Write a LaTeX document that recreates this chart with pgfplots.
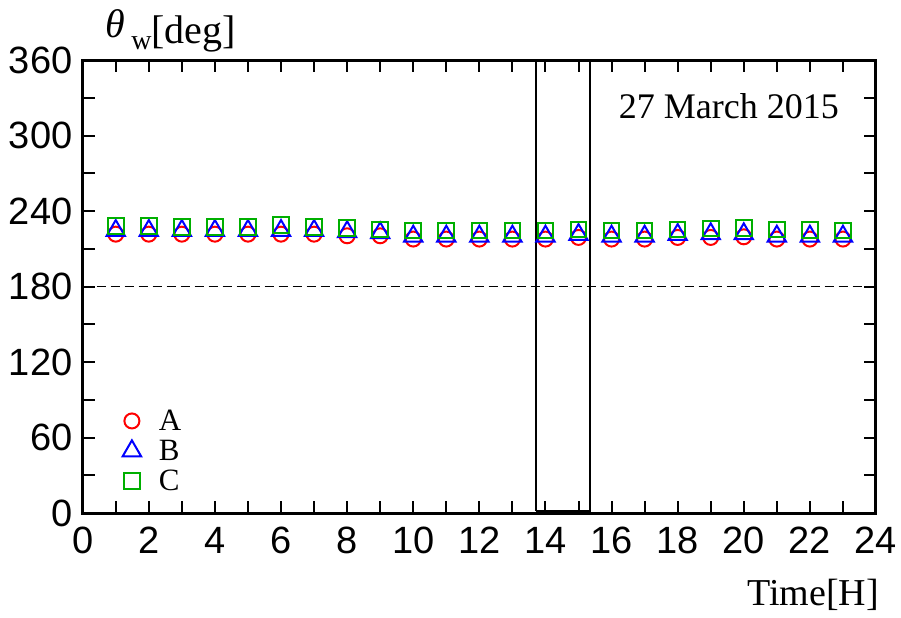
\documentclass[border=0pt]{standalone}
\usepackage{fontspec}
\setmainfont{Liberation Serif}
\newfontfamily\arialfont{Liberation Sans}
\usepackage{pgfplots}
\pgfplotsset{compat=1.18}
\usepackage{pgfplotstable}

\definecolor{mgreen}{RGB}{0,175,0}

% hourly wind direction, three stations
\pgfplotstableread{
hour A     B     C
1    221.6 224.4 228.1
2    221.6 224.4 228.1
3    221.6 224.4 227.5
4    221.6 224.4 227.5
5    221.6 224.4 227.5
6    221.6 224.4 228.8
7    221.6 224.4 227.5
8    220.3 223.4 226.7
9    220.3 222.6 225.4
10   217.7 219.9 224.6
11   217.7 219.9 224.6
12   217.7 219.9 224.6
13   217.7 219.9 224.6
14   217.7 219.9 224.6
15   219.0 221.2 225.4
16   217.7 219.9 224.6
17   217.7 219.9 224.6
18   219.0 221.2 225.4
19   219.0 221.8 226.1
20   219.5 221.8 226.7
21   217.7 219.9 225.4
22   217.7 219.9 224.8
23   217.7 219.9 224.6
}\winddata

\begin{document}
\begin{tikzpicture}
\begin{axis}[
  at={(0,0)}, anchor=south west,
  scale only axis, width=396.65pt, height=226.5pt,
  xmin=0, xmax=24, ymin=0, ymax=360,
  xtick={0,2,...,24}, ytick={0,60,...,360},
  minor x tick num=1, minor y tick num=1,
  major tick length=6pt, minor tick length=6pt,
  tick style={line width=1pt, black},
  axis line style={line width=1.5pt},
  /pgf/number format/assume math mode=true,
  ticklabel style={font=\arialfont\fontsize{19}{19}\selectfont},
  xticklabel style={inner sep=0pt, yshift=-6.8pt},
  yticklabel style={inner sep=0pt, xshift=-5pt},
  clip=false,
  legend image code/.code={
    \path[draw=none, fill=none] (0pt,-4.5pt) rectangle (17pt,10.5pt);
    \draw[#1] plot coordinates {(8.5pt,5pt)};
  },
  legend style={draw=none, fill=none, inner sep=0pt, outer sep=0pt,
    at={(rel axis cs:0.0406,0.2275)}, anchor=north west,
    column sep=5pt, row sep=0pt,
    font=\fontsize{15.5}{15.5}\selectfont,
    nodes={inner sep=0pt, text height=10.5pt, text depth=4.5pt, anchor=base west}},
  legend cell align=left,
]
% reference direction and the marked interval
\addplot[black, line width=0.9pt, dash pattern=on 4.5pt off 2.5pt, forget plot]
  coordinates {(0,180) (24,180)};
\addplot[black, line width=1.2pt, forget plot]
  coordinates {(13.72,1.5) (13.72,360) (15.35,360) (15.35,1.5) (13.72,1.5)};

\addplot[only marks, mark=o, mark size=3.75pt, red, line width=1pt]
  table[x=hour, y=A] {\winddata};
\addlegendentry{A}
\addplot[only marks, mark=triangle, mark size=5.3pt, blue, line width=1pt]
  table[x=hour, y=B] {\winddata};
\addlegendentry{B}
\addplot[only marks, mark=square, mark size=3.9pt, mgreen, line width=1pt]
  table[x=hour, y=C] {\winddata};
\addlegendentry{C}

\node[anchor=base east, font=\fontsize{18}{18}\selectfont]
  at (rel axis cs:1,1) [xshift=-15pt, yshift=-29pt] {27 March 2015};
\node[anchor=base west, font=\fontsize{20}{20}\selectfont]
  at (rel axis cs:0,1) [xshift=8pt, yshift=8.5pt]
  {\raisebox{3pt}{\itshape θ}\hspace{3pt}\raisebox{-3pt}{\fontsize{14}{14}\selectfont w}[deg]};
\node[anchor=base east, font=\fontsize{19}{19}\selectfont]
  at (rel axis cs:1,0) [xshift=5pt, yshift=-46pt] {Time[H]};
\end{axis}
\pgfresetboundingbox
\path (-41.35pt,-52pt) rectangle (409.15pt,256.5pt);
\end{tikzpicture}
\end{document}
